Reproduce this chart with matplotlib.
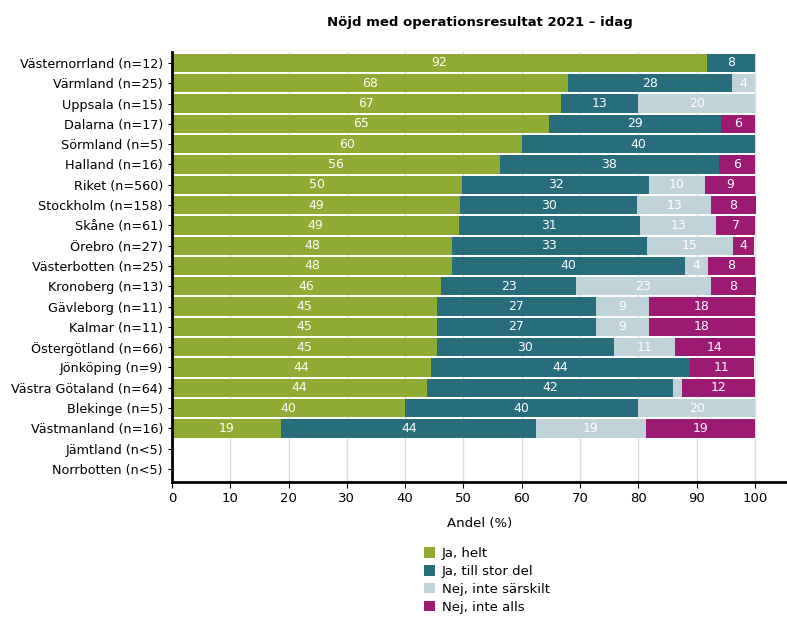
import numpy as np
import matplotlib
matplotlib.use("Agg")
import matplotlib.pyplot as plt
from matplotlib.patches import Patch

regions = [
    "Västernorrland (n=12)", "Värmland (n=25)", "Uppsala (n=15)", "Dalarna (n=17)",
    "Sörmland (n=5)", "Halland (n=16)", "Riket (n=560)", "Stockholm (n=158)",
    "Skåne (n=61)", "Örebro (n=27)", "Västerbotten (n=25)", "Kronoberg (n=13)",
    "Gävleborg (n=11)", "Kalmar (n=11)", "Östergötland (n=66)", "Jönköping (n=9)",
    "Västra Götaland (n=64)", "Blekinge (n=5)", "Västmanland (n=16)",
    "Jämtland (n<5)", "Norrbotten (n<5)",
]

ja_helt = [91.7, 68.0, 66.7, 64.7, 60.0, 56.25, 49.8, 49.4, 49.2, 48.1, 48.0, 46.2,
           45.45, 45.45, 45.45, 44.4, 43.75, 40.0, 18.75, 0, 0]
ja_stor = [8.3, 28.0, 13.3, 29.4, 40.0, 37.5, 32.0, 30.4, 31.1, 33.3, 40.0, 23.1,
           27.3, 27.3, 30.3, 44.4, 42.2, 40.0, 43.75, 0, 0]
nej_sarskilt = [0, 4.0, 20.0, 0, 0, 0, 9.6, 12.7, 13.1, 14.8, 4.0, 23.1,
                9.1, 9.1, 10.6, 0, 1.56, 20.0, 18.75, 0, 0]
nej_alls = [0, 0, 0, 5.9, 0, 6.25, 8.6, 7.6, 6.6, 3.7, 8.0, 7.7,
            18.15, 18.15, 13.6, 11.1, 12.5, 0, 18.75, 0, 0]

series = [ja_helt, ja_stor, nej_sarskilt, nej_alls]
names = ["Ja, helt", "Ja, till stor del", "Nej, inte särskilt", "Nej, inte alls"]
colors = ["#8fab33", "#276d7b", "#bfd3d8", "#9c1a72"]

fig = plt.figure(figsize=(7.87, 6.17), dpi=100)
ax = fig.add_axes([172 / 787, 135 / 617, 1 - 172 / 787, 430 / 617])

y = np.arange(len(regions))
left = np.zeros(len(regions))
for vals, name, col in zip(series, names, colors):
    vals = np.array(vals, dtype=float)
    ax.barh(y, vals, left=left, height=0.9, color=col, edgecolor="none",
            label=name, zorder=2)
    for yi, (l, v) in enumerate(zip(left, vals)):
        if v >= 3:
            ax.text(l + v / 2, yi, f"{v:.0f}", ha="center", va="center",
                    color="white", fontsize=9, zorder=3)
    left += vals

ax.set_xlim(0, 105.5)
ax.set_ylim(len(regions) - 0.36, -0.54)
ax.set_xticks(range(0, 101, 10))
ax.set_yticks(y)
ax.set_yticklabels(regions, fontsize=9.2)
ax.tick_params(axis="x", labelsize=9.5, length=4)
ax.tick_params(axis="y", length=3)
for xv in range(0, 101, 10):
    ax.axvline(xv, color="#dddddd", lw=1, zorder=1)
for s in ["top", "right"]:
    ax.spines[s].set_visible(False)
ax.spines["left"].set_linewidth(2)
ax.spines["bottom"].set_linewidth(2)

ax.set_xlabel("Andel (%)", fontsize=9.5, labelpad=8)
ax.set_title("Nöjd med operationsresultat 2021 – idag", fontsize=9.5,
             fontweight="bold", pad=19)

handles = [Patch(facecolor=c, edgecolor="none") for c in colors]
fig.legend(handles, names, loc="upper left", bbox_to_anchor=(419 / 787, 1 - 542 / 617),
           frameon=False, fontsize=9.5, handlelength=0.85, handleheight=0.85,
           handletextpad=0.5, labelspacing=0.36, borderaxespad=0)

fig.savefig("out.png", dpi=100)
